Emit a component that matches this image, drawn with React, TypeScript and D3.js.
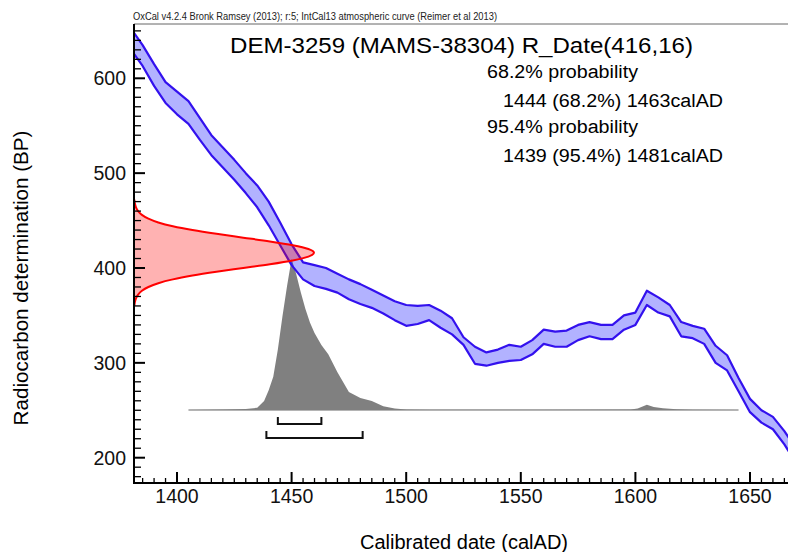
import React from "react";
import * as d3 from "d3";

// ---- Data ----
const HEADER = "OxCal v4.2.4 Bronk Ramsey (2013); r:5; IntCal13 atmospheric curve (Reimer et al 2013)";
const TITLE = "DEM-3259 (MAMS-38304) R_Date(416,16)";
const RANGE_TEXT = ["68.2% probability", "1444 (68.2%) 1463calAD", "95.4% probability", "1439 (95.4%) 1481calAD"];
const X_TICKS = [1400, 1450, 1500, 1550, 1600, 1650];
const Y_TICKS = [200, 300, 400, 500, 600];

// IntCal13 band (calAD year, upper / lower BP)
const CURVE_YEARS = [1380, 1385, 1390, 1395, 1400, 1405, 1410, 1415, 1420, 1425, 1430, 1435, 1440, 1445, 1450, 1455, 1460, 1465, 1470, 1475, 1480, 1485, 1490, 1495, 1500, 1505, 1510, 1515, 1520, 1525, 1530, 1535, 1540, 1545, 1550, 1555, 1560, 1565, 1570, 1575, 1580, 1585, 1590, 1595, 1600, 1605, 1610, 1615, 1620, 1625, 1630, 1635, 1640, 1645, 1650, 1655, 1660, 1665, 1670];
const CURVE_UPPER = [652, 635, 615, 596, 586, 576, 558, 540, 527, 514, 500, 487, 470, 448, 425, 406, 403, 400, 394, 388, 383, 377, 371, 365, 361, 360, 361, 355, 347, 327, 317, 311, 314, 319, 317, 324, 335, 333, 334, 340, 343, 340, 340, 350, 353, 376, 369, 361, 343, 339, 336, 318, 308, 284, 262, 250, 243, 228, 210];
const CURVE_LOWER = [630, 613, 592, 574, 562, 552, 535, 519, 506, 493, 479, 464, 445, 424, 403, 388, 381, 378, 374, 367, 362, 358, 352, 345, 339, 341, 345, 337, 330, 319, 299, 297, 300, 302, 303, 309, 320, 317, 317, 324, 328, 325, 325, 335, 340, 361, 353, 349, 328, 326, 320, 300, 292, 270, 248, 237, 230, 214, 195];

// Radiocarbon date distribution (BP, relative density)
const RC_BP = [472, 468, 464, 460, 456, 452, 448, 444, 440, 436, 432, 428, 424, 420, 416, 412, 408, 404, 400, 396, 392, 388, 384, 380, 376, 372, 368, 364, 360];
const RC_DENS = [0.002, 0.005, 0.011, 0.023, 0.044, 0.08, 0.135, 0.216, 0.325, 0.458, 0.607, 0.755, 0.882, 0.969, 1.0, 0.969, 0.882, 0.755, 0.607, 0.458, 0.325, 0.216, 0.135, 0.08, 0.044, 0.023, 0.011, 0.005, 0.002];

// Calibrated distribution (calAD, relative probability)
const CAL_YEARS = [1405, 1420, 1430, 1435, 1438, 1440, 1442, 1444, 1446, 1448, 1450, 1452, 1454, 1456, 1458, 1460, 1463, 1466, 1470, 1475, 1480, 1485, 1490, 1495, 1500, 1510, 1560, 1598, 1601, 1605, 1608, 1612, 1618, 1625, 1645];
const CAL_PROB = [0, 0.003, 0.006, 0.015, 0.06, 0.13, 0.22, 0.4, 0.62, 0.82, 1.0, 0.9, 0.78, 0.67, 0.58, 0.51, 0.43, 0.37, 0.25, 0.12, 0.08, 0.06, 0.025, 0.01, 0.004, 0.002, 0.002, 0.003, 0.01, 0.034, 0.02, 0.012, 0.005, 0.002, 0];

// Ranges
const RANGE_68 = [1444, 1463];
const RANGE_95 = [1439, 1481];

const FONT = "'Liberation Sans', Arial, sans-serif";

export default function App() {
  const W = 788, H = 552;
  const left = 134, top = 24, bottom = 483, right = 788;
  const x = d3.scaleLinear().domain([1400, 1650]).range([177, 750]);
  const y = d3.scaleLinear().domain([200, 600]).range([457.7, 78.3]);
  const xd = d3.scaleLinear().domain([0, 1]).range([left, 314]);
  const yp = d3.scaleLinear().domain([0, 1]).range([410, 259]);

  const curveIdx = CURVE_YEARS.map((_, i) => i);
  const band = d3.area<number>()
    .x((i) => x(CURVE_YEARS[i]))
    .y0((i) => y(CURVE_LOWER[i]))
    .y1((i) => y(CURVE_UPPER[i]));
  const upperLine = d3.line<number>().x((i) => x(CURVE_YEARS[i])).y((i) => y(CURVE_UPPER[i]));
  const lowerLine = d3.line<number>().x((i) => x(CURVE_YEARS[i])).y((i) => y(CURVE_LOWER[i]));

  const rcIdx = RC_BP.map((_, i) => i);
  const rcArea = d3.area<number>()
    .y((i) => y(RC_BP[i]))
    .x0(left)
    .x1((i) => xd(RC_DENS[i]))
    .curve(d3.curveMonotoneY);
  const rcLine = d3.line<number>()
    .y((i) => y(RC_BP[i]))
    .x((i) => xd(RC_DENS[i]))
    .curve(d3.curveMonotoneY);

  const calIdx = CAL_YEARS.map((_, i) => i);
  const calArea = d3.area<number>()
    .x((i) => x(CAL_YEARS[i]))
    .y0(yp(0))
    .y1((i) => yp(CAL_PROB[i]));

  const xMinor = d3.range(1385, 1670, 5);
  const yMinor = d3.range(180, 660, 10);

  const bracket = (r: number[], yy: number) =>
    `M${x(r[0])},${yy - 7}V${yy}H${x(r[1])}V${yy - 7}`;

  const fit = { lengthAdjust: "spacingAndGlyphs" as const };

  return (
    <svg width={W} height={H} style={{ position: "absolute", left: 0, top: 0, background: "#fff" }} fontFamily={FONT}>
      <defs>
        <clipPath id="plot">
          <rect x={left} y={top} width={right - left} height={bottom - top} />
        </clipPath>
      </defs>
      <rect x={0} y={0} width={W} height={H} fill="#fff" />
      <text x={133} y={20} fontSize={10.5} fill="#222" textLength={364} {...fit}>{HEADER}</text>

      <g clipPath="url(#plot)">
        {/* calibrated distribution */}
        <line x1={x(CAL_YEARS[0])} x2={x(CAL_YEARS[CAL_YEARS.length - 1])} y1={yp(0)} y2={yp(0)} stroke="#b4b4b4" strokeWidth={2} />
        <path d={calArea(calIdx) || ""} fill="#808080" />
        {/* calibration curve */}
        <path d={band(curveIdx) || ""} fill="rgba(0,0,255,0.3)" />
        <path d={upperLine(curveIdx) || ""} fill="none" stroke="#3311ee" strokeWidth={2.2} strokeLinejoin="round" />
        <path d={lowerLine(curveIdx) || ""} fill="none" stroke="#3311ee" strokeWidth={2.2} strokeLinejoin="round" />
        {/* radiocarbon date */}
        <path d={rcArea(rcIdx) || ""} fill="rgba(255,0,0,0.3)" />
        <path d={rcLine(rcIdx) || ""} fill="none" stroke="#ff0000" strokeWidth={2} />
      </g>

      {/* ranges */}
      <path d={bracket(RANGE_68, 424)} fill="none" stroke="#111" strokeWidth={2} />
      <path d={bracket(RANGE_95, 438)} fill="none" stroke="#111" strokeWidth={2} />

      {/* frame & axes */}
      <line x1={left} x2={right} y1={top} y2={top} stroke="#666" strokeWidth={1} />
      <line x1={left} x2={left} y1={top} y2={bottom + 1} stroke="#000" strokeWidth={2} />
      <line x1={left - 1} x2={right} y1={bottom} y2={bottom} stroke="#000" strokeWidth={2} />
      {xMinor.map((v) => {
        const major = v % 50 === 0;
        return <line key={"xm" + v} x1={x(v)} x2={x(v)} y1={bottom} y2={bottom - (major ? 11 : 5)} stroke="#000" strokeWidth={major ? 2 : 1.3} />;
      })}
      {yMinor.filter((v) => y(v) > top && y(v) < bottom).map((v) => {
        const major = v % 100 === 0;
        return <line key={"ym" + v} x1={left} x2={left + (major ? 11 : 7)} y1={y(v)} y2={y(v)} stroke="#000" strokeWidth={major ? 2 : 1.3} />;
      })}
      {X_TICKS.map((v) => (
        <text key={"xl" + v} x={x(v)} y={503} fontSize={19.5} textAnchor="middle" fill="#111">{v}</text>
      ))}
      {Y_TICKS.map((v) => (
        <text key={"yl" + v} x={126} y={y(v) + 7} fontSize={19.5} textAnchor="end" fill="#111">{v}</text>
      ))}

      {/* titles */}
      <text x={230} y={53} fontSize={22} fill="#000" textLength={463} {...fit}>{TITLE}</text>
      <text x={487} y={78} fontSize={18} fill="#000" textLength={151} {...fit}>{RANGE_TEXT[0]}</text>
      <text x={503} y={107} fontSize={18} fill="#000" textLength={220} {...fit}>{RANGE_TEXT[1]}</text>
      <text x={487} y={133} fontSize={18} fill="#000" textLength={151} {...fit}>{RANGE_TEXT[2]}</text>
      <text x={503} y={162} fontSize={18} fill="#000" textLength={220} {...fit}>{RANGE_TEXT[3]}</text>

      <text x={464} y={549} fontSize={20} textAnchor="middle" fill="#000" textLength={208} {...fit}>Calibrated date (calAD)</text>
      <text transform="translate(28,278) rotate(-90)" fontSize={20} textAnchor="middle" fill="#000" textLength={295} {...fit}>Radiocarbon determination (BP)</text>
    </svg>
  );
}
